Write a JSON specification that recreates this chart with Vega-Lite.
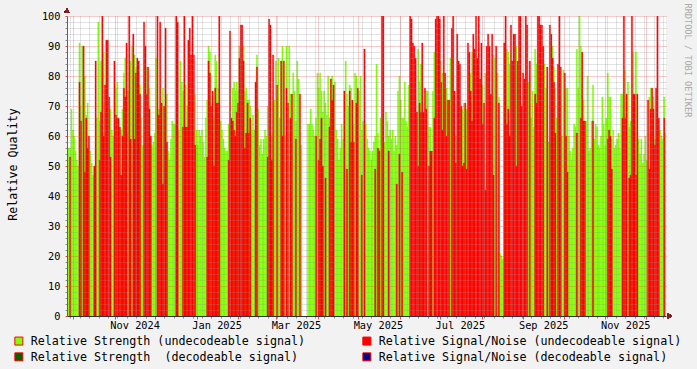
{
"$schema":"https://vega.github.io/schema/vega-lite/v6.json",
"width":599,"height":300,
"autosize":{"type":"none"},
"padding":{"left":67,"top":16,"right":31,"bottom":53},
"background":"#f2f2f2",
"view":{"fill":"#ffffff","stroke":null},
"data":{"values":[
{"d":"2024-09-26","s":56},{"d":"2024-09-27","s":56},{"d":"2024-09-28","s":56,"n":53},{"d":"2024-09-29","s":69},{"d":"2024-09-30","s":62},
{"d":"2024-10-01","s":60},{"d":"2024-10-02","s":55},{"d":"2024-10-03","s":52},{"d":"2024-10-04","s":50},{"d":"2024-10-05","n":78,"s":91},{"d":"2024-10-06","n":65,"s":70},{"d":"2024-10-07","s":90},{"d":"2024-10-08","n":90},{"d":"2024-10-09","n":48,"s":80},{"d":"2024-10-10","n":66,"s":67},{"d":"2024-10-11","n":56,"s":71},{"d":"2024-10-12","n":60},{"d":"2024-10-13","s":55},{"d":"2024-10-14","s":51},{"d":"2024-10-15","s":47},{"d":"2024-10-16","n":50},{"d":"2024-10-17","n":85},{"d":"2024-10-18","s":66},{"d":"2024-10-19","s":98},{"d":"2024-10-20","n":52,"s":65},{"d":"2024-10-21","n":68,"s":85},{"d":"2024-10-22","n":100},{"d":"2024-10-23","n":60,"s":88},{"d":"2024-10-24","n":77},{"d":"2024-10-25","n":92},{"d":"2024-10-26","n":92},{"d":"2024-10-27","n":73},{"d":"2024-10-28","n":53,"s":69},{"d":"2024-10-29","s":62},{"d":"2024-10-30","s":60},{"d":"2024-10-31","n":85},
{"d":"2024-11-01","n":67,"s":76},{"d":"2024-11-02","n":66,"s":78},{"d":"2024-11-03","n":66},{"d":"2024-11-04","n":63},{"d":"2024-11-05","n":47,"s":62},{"d":"2024-11-06","n":60,"s":69},{"d":"2024-11-07","n":76,"s":81},{"d":"2024-11-08","n":73,"s":86},{"d":"2024-11-09","n":91},{"d":"2024-11-10","s":75},{"d":"2024-11-11","n":100},{"d":"2024-11-12","n":59,"s":85},{"d":"2024-11-13","s":90},{"d":"2024-11-14","n":94},{"d":"2024-11-15","n":59,"s":87},{"d":"2024-11-16","n":81,"s":83},{"d":"2024-11-17","n":86},{"d":"2024-11-18","n":85},{"d":"2024-11-19","n":74,"s":77},{"d":"2024-11-20","s":66},{"d":"2024-11-21","s":57},{"d":"2024-11-22","n":98},{"d":"2024-11-23","n":90},{"d":"2024-11-24","n":74,"s":83},{"d":"2024-11-25","n":83},{"d":"2024-11-26","n":69,"s":76},{"d":"2024-11-27","n":60},{"d":"2024-11-28","s":57},{"d":"2024-11-29","s":58},{"d":"2024-11-30","s":61},
{"d":"2024-12-01","s":86},{"d":"2024-12-02","n":100},{"d":"2024-12-03","n":67,"s":69},{"d":"2024-12-04","n":98},{"d":"2024-12-05","n":71},{"d":"2024-12-06","n":44,"s":76},{"d":"2024-12-07","n":70},{"d":"2024-12-08","n":96},{"d":"2024-12-09","n":58,"s":74},{"d":"2024-12-10","s":55},{"d":"2024-12-11","s":52},{"d":"2024-12-12","s":59},{"d":"2024-12-13","s":65},{"d":"2024-12-14","s":64},{"d":"2024-12-15","s":64},{"d":"2024-12-16","n":100},{"d":"2024-12-17","n":98},{"d":"2024-12-18","s":62},{"d":"2024-12-19","s":85},{"d":"2024-12-20","s":78},{"d":"2024-12-21","n":63,"s":75},{"d":"2024-12-22","n":100},{"d":"2024-12-23","n":63,"s":77},{"d":"2024-12-24","n":63,"s":70},{"d":"2024-12-25","n":92},{"d":"2024-12-26","n":96},{"d":"2024-12-27","n":87},{"d":"2024-12-28","n":100},{"d":"2024-12-29","n":87},{"d":"2024-12-30","n":57,"s":74},{"d":"2024-12-31","s":62},
{"d":"2025-01-01","s":57},{"d":"2025-01-02","s":62},{"d":"2025-01-03","s":60},{"d":"2025-01-04","s":62},{"d":"2025-01-05","s":58},{"d":"2025-01-06","s":53},{"d":"2025-01-07","s":66},{"d":"2025-01-08","n":53,"s":72},{"d":"2025-01-09","n":85,"s":90},{"d":"2025-01-10","n":81,"s":88},{"d":"2025-01-11","n":70},{"d":"2025-01-12","n":75},{"d":"2025-01-13","n":50,"s":66},{"d":"2025-01-14","n":76,"s":87},{"d":"2025-01-15","n":71,"s":85},{"d":"2025-01-16","n":71,"s":76},{"d":"2025-01-17","n":100},{"d":"2025-01-18","s":65},{"d":"2025-01-19","s":62},{"d":"2025-01-20","s":59},{"d":"2025-01-21","s":56},{"d":"2025-01-22","s":55},{"d":"2025-01-23","s":55},{"d":"2025-01-24","n":52,"s":64},{"d":"2025-01-25","n":95},{"d":"2025-01-26","n":66},{"d":"2025-01-27","n":65,"s":76},{"d":"2025-01-28","n":62,"s":78},{"d":"2025-01-29","n":60,"s":75},{"d":"2025-01-30","n":68,"s":78},{"d":"2025-01-31","n":71,"s":75},
{"d":"2025-02-01","n":86,"s":90},{"d":"2025-02-02","n":97},{"d":"2025-02-03","n":97},{"d":"2025-02-04","n":85,"s":90},{"d":"2025-02-05","n":56,"s":75},{"d":"2025-02-06","n":61,"s":76},{"d":"2025-02-07","n":71,"s":72},{"d":"2025-02-08","n":61,"s":72},{"d":"2025-02-09","n":66,"s":70},{"d":"2025-02-10","s":62},{"d":"2025-02-11","s":67},{"d":"2025-02-12","s":62},{"d":"2025-02-13","n":78},{"d":"2025-02-14","n":83,"s":87},{"d":"2025-02-15","s":69},{"d":"2025-02-16","s":57},{"d":"2025-02-17","s":59},{"d":"2025-02-18","s":54},{"d":"2025-02-19","s":59},{"d":"2025-02-20","s":62},{"d":"2025-02-21","s":60},{"d":"2025-02-22","n":53,"s":70},{"d":"2025-02-23","n":99},{"d":"2025-02-24","n":97},{"d":"2025-02-25","n":52,"s":60},{"d":"2025-02-26","n":87},{"d":"2025-02-27","s":72},{"d":"2025-02-28","s":85},
{"d":"2025-03-01","n":77},{"d":"2025-03-02","s":86},{"d":"2025-03-03","s":66},{"d":"2025-03-04","n":85},{"d":"2025-03-05","n":60,"s":90},{"d":"2025-03-06","n":85},{"d":"2025-03-07","s":60},{"d":"2025-03-08","n":76,"s":90},{"d":"2025-03-09","n":71},{"d":"2025-03-10","s":90},{"d":"2025-03-11","n":66,"s":74},{"d":"2025-03-12","n":74},{"d":"2025-03-13","s":81},{"d":"2025-03-14","s":75},{"d":"2025-03-15","n":59,"s":65},{"d":"2025-03-16","s":85},{"d":"2025-03-17","s":79},{"d":"2025-03-18","n":74},{"d":"2025-03-19","s":57},{"d":"2025-03-24","s":64},{"d":"2025-03-25","s":64},{"d":"2025-03-26","s":69},{"d":"2025-03-27","s":64},{"d":"2025-03-28","s":62},{"d":"2025-03-29","s":60},{"d":"2025-03-30","n":60,"s":66},{"d":"2025-03-31","s":81},
{"d":"2025-04-01","n":52,"s":76},{"d":"2025-04-02","n":59,"s":81},{"d":"2025-04-03","n":66,"s":75},{"d":"2025-04-04","n":50,"s":68},{"d":"2025-04-05","s":75},{"d":"2025-04-06","n":46,"s":71},{"d":"2025-04-07","s":67},{"d":"2025-04-08","s":80},{"d":"2025-04-09","n":63,"s":66},{"d":"2025-04-10","n":79},{"d":"2025-04-11","n":72,"s":80},{"d":"2025-04-12","n":77},{"d":"2025-04-13","s":78},{"d":"2025-04-14","s":62},{"d":"2025-04-15","s":59},{"d":"2025-04-16","s":52},{"d":"2025-04-17","s":56},{"d":"2025-04-18","s":64},{"d":"2025-04-19","s":59},{"d":"2025-04-20","n":75},{"d":"2025-04-21","s":85},{"d":"2025-04-22","n":49,"s":74},{"d":"2025-04-23","s":70},{"d":"2025-04-24","n":75,"s":77},{"d":"2025-04-25","n":58,"s":76},{"d":"2025-04-26","n":72},{"d":"2025-04-27","n":58,"s":64},{"d":"2025-04-28","s":81},{"d":"2025-04-29","n":71,"s":80},{"d":"2025-04-30","n":76},
{"d":"2025-05-01","s":75},{"d":"2025-05-02","s":80},{"d":"2025-05-03","n":47,"s":62},{"d":"2025-05-04","s":65},{"d":"2025-05-05","n":89},{"d":"2025-05-06","s":64},{"d":"2025-05-07","s":59},{"d":"2025-05-08","s":56},{"d":"2025-05-09","s":55},{"d":"2025-05-10","s":52},{"d":"2025-05-11","s":55},{"d":"2025-05-12","s":58},{"d":"2025-05-13","n":49,"s":60},{"d":"2025-05-14","s":84},{"d":"2025-05-15","n":56,"s":61},{"d":"2025-05-16","n":55,"s":56},{"d":"2025-05-17","s":66},{"d":"2025-05-18","n":100},{"d":"2025-05-19","n":100},{"d":"2025-05-20","s":58},{"d":"2025-05-21","s":68},{"d":"2025-05-22","s":65},{"d":"2025-05-23","n":55,"s":60},{"d":"2025-05-24","s":62},{"d":"2025-05-25","s":59},{"d":"2025-05-26","s":62},{"d":"2025-05-27","s":55},{"d":"2025-05-28","s":60},{"d":"2025-05-29","n":44,"s":57},{"d":"2025-05-30","s":75},{"d":"2025-05-31","n":54,"s":80},
{"d":"2025-06-01","s":72},{"d":"2025-06-02","n":48,"s":66},{"d":"2025-06-03","s":66},{"d":"2025-06-04","s":78},{"d":"2025-06-05","s":65},{"d":"2025-06-06","s":63},{"d":"2025-06-07","s":77},{"d":"2025-06-08","n":100},{"d":"2025-06-09","n":99},{"d":"2025-06-10","n":91},{"d":"2025-06-11","n":90},{"d":"2025-06-12","n":86},{"d":"2025-06-13","n":68},{"d":"2025-06-14","n":50,"s":89},{"d":"2025-06-15","n":71,"s":78},{"d":"2025-06-16","n":68,"s":84},{"d":"2025-06-17","n":91},{"d":"2025-06-18","n":68},{"d":"2025-06-19","n":76},{"d":"2025-06-20","n":69,"s":75},{"d":"2025-06-21","s":75},{"d":"2025-06-22","n":50,"s":63},{"d":"2025-06-23","n":55,"s":63},{"d":"2025-06-24","n":55},{"d":"2025-06-25","s":75},{"d":"2025-06-26","n":66,"s":88},{"d":"2025-06-27","n":99},{"d":"2025-06-28","n":100},{"d":"2025-06-29","n":100},{"d":"2025-06-30","n":99},
{"d":"2025-07-01","n":78,"s":85},{"d":"2025-07-02","n":62,"s":81},{"d":"2025-07-03","n":100},{"d":"2025-07-04","n":81},{"d":"2025-07-05","n":60,"s":76},{"d":"2025-07-06","n":72},{"d":"2025-07-07","n":72},{"d":"2025-07-08","s":86},{"d":"2025-07-09","n":96},{"d":"2025-07-10","n":100},{"d":"2025-07-11","n":75},{"d":"2025-07-12","n":51,"s":60},{"d":"2025-07-13","n":94},{"d":"2025-07-14","n":85},{"d":"2025-07-15","n":84},{"d":"2025-07-16","n":70},{"d":"2025-07-17","n":50,"s":69},{"d":"2025-07-18","n":51,"s":71},{"d":"2025-07-19","n":71},{"d":"2025-07-20","n":49,"s":69},{"d":"2025-07-21","n":91},{"d":"2025-07-22","n":88},{"d":"2025-07-23","n":75,"s":81},{"d":"2025-07-24","n":65,"s":88},{"d":"2025-07-25","n":94},{"d":"2025-07-26","n":89},{"d":"2025-07-27","n":100},{"d":"2025-07-28","n":86},{"d":"2025-07-29","n":100},{"d":"2025-07-30","n":79},{"d":"2025-07-31","n":91},
{"d":"2025-08-01","n":64,"s":77},{"d":"2025-08-02","n":71},{"d":"2025-08-03","n":42,"s":81},{"d":"2025-08-04","n":90},{"d":"2025-08-05","n":94},{"d":"2025-08-06","n":90},{"d":"2025-08-07","n":74},{"d":"2025-08-08","n":94},{"d":"2025-08-09","n":47,"s":87},{"d":"2025-08-10","s":86},{"d":"2025-08-11","n":90},{"d":"2025-08-12","s":81},{"d":"2025-08-13","n":71,"s":73},{"d":"2025-08-14","s":21},{"d":"2025-08-15","s":20},{"d":"2025-08-16","s":19},{"d":"2025-08-17","n":91},{"d":"2025-08-18","n":100},{"d":"2025-08-19","n":64,"s":89},{"d":"2025-08-20","n":69,"s":88},{"d":"2025-08-21","n":60,"s":84},{"d":"2025-08-22","n":97},{"d":"2025-08-23","n":85},{"d":"2025-08-24","n":94},{"d":"2025-08-25","n":94},{"d":"2025-08-26","n":50,"s":90},{"d":"2025-08-27","n":85},{"d":"2025-08-28","n":100},{"d":"2025-08-29","n":100},{"d":"2025-08-30","n":70},{"d":"2025-08-31","n":81},
{"d":"2025-09-01","n":79},{"d":"2025-09-02","n":100},{"d":"2025-09-03","n":97},{"d":"2025-09-04","s":78},{"d":"2025-09-05","n":85},{"d":"2025-09-06","s":66},{"d":"2025-09-07","s":75},{"d":"2025-09-08","s":63},{"d":"2025-09-09","n":74,"s":89},{"d":"2025-09-10","n":71,"s":84},{"d":"2025-09-11","n":100},{"d":"2025-09-12","n":100},{"d":"2025-09-13","n":97},{"d":"2025-09-14","n":97},{"d":"2025-09-15","n":90},{"d":"2025-09-16","s":84},{"d":"2025-09-17","s":76},{"d":"2025-09-18","n":83},{"d":"2025-09-19","s":58},{"d":"2025-09-20","n":97},{"d":"2025-09-21","n":94},{"d":"2025-09-22","n":86,"s":90},{"d":"2025-09-23","n":78,"s":83},{"d":"2025-09-24","n":61,"s":76},{"d":"2025-09-25","s":66},{"d":"2025-09-26","n":84},{"d":"2025-09-27","n":100},{"d":"2025-09-28","n":83},{"d":"2025-09-29","s":60},{"d":"2025-09-30","s":82},
{"d":"2025-10-01","n":81},{"d":"2025-10-02","n":60,"s":76},{"d":"2025-10-03","n":48,"s":76},{"d":"2025-10-04","s":60},{"d":"2025-10-05","s":55},{"d":"2025-10-06","s":52},{"d":"2025-10-07","s":56},{"d":"2025-10-08","s":64},{"d":"2025-10-09","s":63},{"d":"2025-10-10","n":61,"s":89},{"d":"2025-10-11","s":76},{"d":"2025-10-12","s":100},{"d":"2025-10-13","n":66,"s":90},{"d":"2025-10-14","n":88},{"d":"2025-10-15","n":65,"s":72},{"d":"2025-10-16","n":65},{"d":"2025-10-17","s":65},{"d":"2025-10-18","s":80},{"d":"2025-10-19","s":55},{"d":"2025-10-20","s":56},{"d":"2025-10-21","s":65},{"d":"2025-10-22","n":65,"s":77},{"d":"2025-10-23","s":59},{"d":"2025-10-24","s":64},{"d":"2025-10-25","s":63},{"d":"2025-10-26","s":57},{"d":"2025-10-27","s":56},{"d":"2025-10-28","s":60},{"d":"2025-10-29","s":73},{"d":"2025-10-30","s":64},{"d":"2025-10-31","s":57},
{"d":"2025-11-01","s":66},{"d":"2025-11-02","n":59,"s":81},{"d":"2025-11-03","n":62,"s":73},{"d":"2025-11-04","n":60,"s":73},{"d":"2025-11-05","n":49,"s":59},{"d":"2025-11-06","s":62},{"d":"2025-11-07","s":56},{"d":"2025-11-08","s":57},{"d":"2025-11-09","s":59},{"d":"2025-11-10","s":61},{"d":"2025-11-11","s":56},{"d":"2025-11-12","s":74},{"d":"2025-11-13","n":66,"s":74},{"d":"2025-11-14","n":100},{"d":"2025-11-15","n":66,"s":82},{"d":"2025-11-16","n":74},{"d":"2025-11-17","s":78},{"d":"2025-11-18","n":46,"s":63},{"d":"2025-11-19","n":47,"s":65},{"d":"2025-11-20","n":100},{"d":"2025-11-21","n":74,"s":88},{"d":"2025-11-22","n":74},{"d":"2025-11-23","n":47,"s":88},{"d":"2025-11-24","n":74},{"d":"2025-11-25","s":59},{"d":"2025-11-26","s":54},{"d":"2025-11-27","s":59},{"d":"2025-11-28","s":51},{"d":"2025-11-29","s":54},{"d":"2025-11-30","s":60},
{"d":"2025-12-01","s":52},{"d":"2025-12-02","n":72},{"d":"2025-12-03","n":49,"s":73},{"d":"2025-12-04","n":69,"s":76},{"d":"2025-12-05","n":76},{"d":"2025-12-06","n":69,"s":73},{"d":"2025-12-07","n":57,"s":59},{"d":"2025-12-08","n":76},{"d":"2025-12-09","n":100},{"d":"2025-12-10","n":66},{"d":"2025-12-11","s":62},{"d":"2025-12-12","s":60},{"d":"2025-12-13","s":59},{"d":"2025-12-14","n":66,"s":73},{"d":"2025-12-15","s":61},{"d":"2025-12-16","s":79}
]},
"layer":[
{"mark":{"type":"bar","clip":true,"binSpacing":0,"stroke":"#7fff00","strokeWidth":0.3},
 "encoding":{
  "x":{"field":"d","timeUnit":"utcyearmonthdate","type":"temporal",
       "scale":{"type":"utc","domain":[{"year":2024,"month":9,"date":26,"hours":13,"utc":true},{"year":2025,"month":12,"date":16,"hours":5,"utc":true}]},
       "axis":{"orient":"bottom","tickCount":{"interval":"week","step":1},"grid":true,"gridColor":"#8f8f8f","gridOpacity":0.5,"gridDash":[1,1],"labels":false,"domain":false,"ticks":true,"tickSize":2,"tickColor":"#8f8f8f","title":null,"zindex":1}},
  "y":{"field":"s","type":"quantitative","scale":{"domain":[0,100]},
       "axis":{"orient":"left","values":[2,4,6,8,12,14,16,18,22,24,26,28,32,34,36,38,42,44,46,48,52,54,56,58,62,64,66,68,72,74,76,78,82,84,86,88,92,94,96,98],"grid":true,"gridColor":"#8f8f8f","gridOpacity":0.5,"gridDash":[1,1],"labels":false,"domain":false,"ticks":true,"tickSize":2,"tickColor":"#8f8f8f","title":null,"zindex":1}},
  "color":{"datum":"Relative Strength (undecodeable signal)","type":"nominal",
       "scale":{"domain":["Relative Strength (undecodeable signal)","Relative Signal/Noise (undecodeable signal)","Relative Strength \u00a0(decodeable signal)","Relative Signal/Noise (decodeable signal)"],"range":["#7fff00","#ff0000","#006400","#00008b"]},
       "legend":{"title":null,"orient":"none","legendX":-54,"legendY":319,"columns":2,"columnPadding":54,"rowPadding":2,"padding":0,"offset":0,"symbolType":"square","symbolSize":64,"symbolStrokeColor":"#000000","symbolStrokeWidth":1,"labelFont":"DejaVu Sans Mono","labelFontSize":11.7,"labelColor":"#000000","labelOffset":6,"labelLimit":400,"direction":"horizontal"}}
 }},
{"mark":{"type":"bar","clip":true,"binSpacing":0,"stroke":"#ff0000","strokeWidth":0.3},
 "encoding":{
  "x":{"field":"d","timeUnit":"utcyearmonthdate","type":"temporal",
       "axis":{"orient":"bottom","tickCount":{"interval":"month","step":1},"grid":true,"gridColor":"#de5050","gridOpacity":0.6,"gridDash":[1,1],"labelExpr":"utcmonth(datum.value) % 2 == 0 ? utcFormat(datum.value, '%b %Y') : ''","labelOffset":20,"labelOverlap":false,"labelFlush":false,"labelFont":"DejaVu Sans Mono","labelFontSize":10.3,"labelColor":"#000000","labelPadding":1,"tickSize":3,"tickColor":"#de5050","domainColor":"#303040","title":null,"zindex":1}},
  "y":{"field":"n","type":"quantitative",
       "axis":{"orient":"left","values":[0,10,20,30,40,50,60,70,80,90,100],"grid":true,"gridColor":"#de5050","gridOpacity":0.6,"gridDash":[1,1],"labelFont":"DejaVu Sans Mono","labelFontSize":10.3,"labelColor":"#000000","labelPadding":5,"tickSize":2,"tickColor":"#de5050","domainColor":"#606060","title":"Relative Quality","titleFont":"DejaVu Sans Mono","titleFontSize":11.7,"titleFontWeight":"normal","titleColor":"#000000","titleX":-55,"titleY":148,"titleAngle":-90,"titleAlign":"center","titleBaseline":"middle","zindex":1}},
  "color":{"datum":"Relative Signal/Noise (undecodeable signal)","type":"nominal"}
 }},
{"mark":{"type":"point","shape":"triangle-up","filled":true,"color":"#7f1f1f","size":28,"opacity":1,"clip":false},
 "encoding":{
  "x":{"datum":{"year":2024,"month":9,"date":26,"hours":13,"utc":true},"type":"temporal","axis":null},
  "y":{"datum":101.8,"type":"quantitative",
       "axis":{"orient":"right","labels":false,"ticks":false,"domain":false,"grid":false,"title":"RRDTOOL / TOBI OETIKER","titleFont":"DejaVu Sans Mono","titleFontSize":8.6,"titleFontWeight":"normal","titleColor":"#aaaaaa","titleAngle":90,"titleAlign":"left","titleBaseline":"middle","titleX":21.5,"titleY":-13}}
 }},
{"mark":{"type":"point","shape":"triangle-right","filled":true,"color":"#7f1f1f","size":28,"opacity":1,"clip":false},
 "encoding":{
  "x":{"datum":{"year":2025,"month":12,"date":19,"utc":true},"type":"temporal","axis":null},
  "y":{"datum":0,"type":"quantitative","axis":null}
 }}
],
"resolve":{"axis":{"x":"independent","y":"independent"}}
}
